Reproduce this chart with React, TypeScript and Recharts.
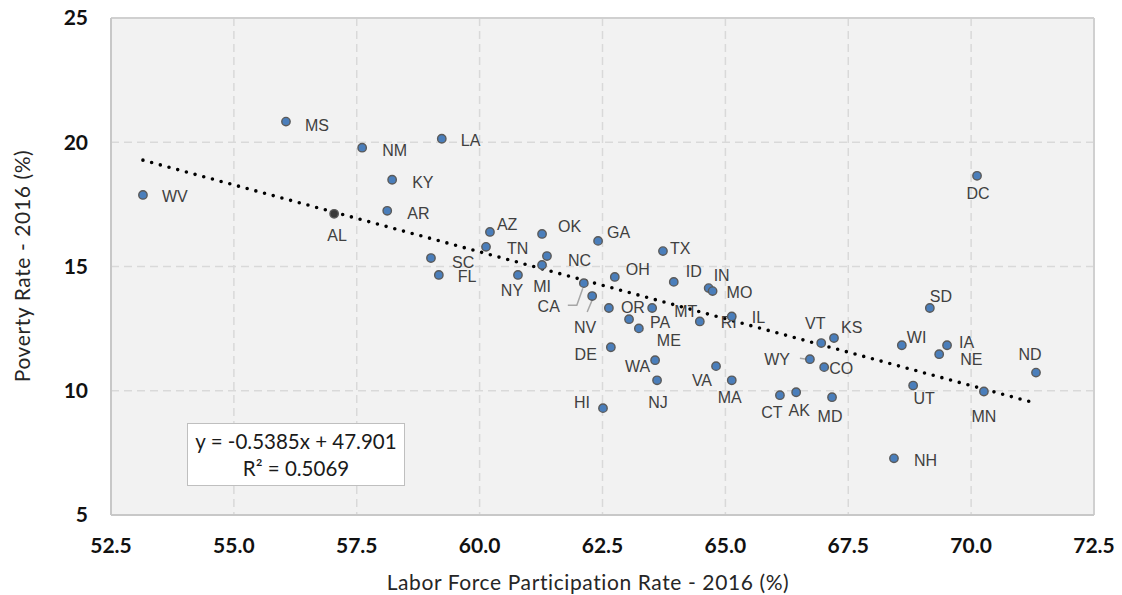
import React from "react";
import {
  ScatterChart,
  Scatter,
  XAxis,
  YAxis,
  CartesianGrid,
  ReferenceLine,
} from "recharts";

const states = [
  "WV", "MS", "NM", "LA", "KY", "AR", "AL", "SC", "FL", "AZ", "TN", "OK", "GA",
  "NC", "MI", "NY", "TX", "OH", "ID", "IN", "MO", "CA", "NV", "OR", "PA", "MT",
  "ME", "RI", "IL", "DE", "WA", "NJ", "VA", "MA", "HI", "CT", "AK", "MD", "WY",
  "CO", "VT", "KS", "WI", "SD", "IA", "NE", "ND", "UT", "MN", "NH", "DC",
];

// labor force participation rate 2016 (%)
const lfpr = [
  53.15, 56.06, 57.61, 59.23, 58.22, 58.12, 57.04, 59.01, 59.17, 60.21, 60.13, 61.27, 62.41,
  61.37, 61.27, 60.78, 63.73, 62.75, 63.95, 64.66, 64.74, 62.12, 62.29, 62.63, 63.04, 63.51,
  63.24, 64.48, 65.13, 62.67, 63.57, 63.61, 64.81, 65.13, 62.51, 66.11, 66.44, 67.17, 66.72,
  67.01, 66.95, 67.21, 68.59, 69.16, 69.51, 69.35, 71.32, 68.82, 70.26, 68.43, 70.12,
];

// poverty rate 2016 (%)
const poverty = [
  17.88, 20.83, 19.78, 20.14, 18.49, 17.24, 17.12, 15.34, 14.66, 16.39, 15.79, 16.31, 16.03,
  15.42, 15.06, 14.66, 15.62, 14.58, 14.38, 14.13, 14.01, 14.33, 13.81, 13.33, 12.88, 13.33,
  12.51, 12.79, 12.99, 11.75, 11.23, 10.42, 10.99, 10.42, 9.3, 9.82, 9.94, 9.74, 11.27,
  10.95, 11.92, 12.12, 11.83, 13.33, 11.83, 11.47, 10.73, 10.21, 9.97, 7.28, 18.65,
];

const xTicks = [52.5, 55, 57.5, 60, 62.5, 65, 67.5, 70, 72.5];
const yTicks = [5, 10, 15, 20, 25];

const trendSlope = -0.5385;
const trendIntercept = 47.901;
const trendR2 = 0.5069;

const darkPoints = ["AL"];

// label placement relative to the dot: dx, dy, anchor
const labelPos: Record<string, [number, number, string?]> = {
  WV: [19, 2], MS: [19, 4], NM: [20, 3], LA: [19, 2], KY: [20, 3], AR: [20, 3],
  AL: [3, 22, "middle"], SC: [21, 4], FL: [19, 2], AZ: [7, -7], TN: [21, 2],
  OK: [16, -7], GA: [9, -8], NC: [21, 4], MI: [0, 21, "middle"], NY: [-6, 16, "middle"],
  TX: [7, -3], OH: [11, -7], ID: [12, -10], IN: [5, -13], MO: [14, 1],
  CA: [-24, 23, "end"], NV: [-7, 31, "middle"], OR: [12, 0], PA: [21, 3], MT: [22, 4],
  ME: [18, 12], RI: [21, 1], IL: [20, 1], DE: [-14, 7, "end"], WA: [-5, 6, "end"],
  NJ: [1, 22, "middle"], VA: [-4, 14, "end"], MA: [-2, 17, "middle"], HI: [-13, -6, "end"],
  CT: [-8, 17, "middle"], AK: [3, 18, "middle"], MD: [-2, 19, "middle"], WY: [-20, 0, "end"],
  CO: [5, 1], VT: [-6, -20, "middle"], KS: [7, -11], WI: [5, -8], SD: [0, -11],
  IA: [12, -3], NE: [21, 5], ND: [-6, -18, "middle"], UT: [11, 13, "middle"],
  MN: [0, 25, "middle"], NH: [20, 2], DC: [1, 18, "middle"],
};

const leaders: Record<string, number[][]> = {
  CA: [[-16, 22], [-7, 22], [-1, 5]],
  NV: [[-5, 16], [0, 4]],
  WY: [[-10, -1], [-3, 0]],
};

const data = states.map((s, i) => ({ state: s, x: lfpr[i], y: poverty[i] }));
const xMin = Math.min(...lfpr);
const xMax = Math.max(...lfpr);

const titleFont = "Lato, 'Open Sans', sans-serif";

function StatePoint(props: any) {
  const { cx, cy, payload } = props;
  if (cx == null || cy == null || !payload) return null;
  const st = payload.state;
  const [dx, dy, anchor] = labelPos[st] ?? [12, 0];
  const lead = leaders[st];
  return (
    <g>
      {lead && (
        <polyline
          points={lead.map(([a, b]) => `${cx + a},${cy + b}`).join(" ")}
          fill="none"
          stroke="#a6a6a6"
          strokeWidth={1.5}
        />
      )}
      <circle
        cx={cx}
        cy={cy}
        r={4.2}
        fill={darkPoints.includes(st) ? "#3a3a3a" : "#4a7ebb"}
        stroke="#5a5a5a"
        strokeWidth={1.4}
      />
      <text
        x={cx + dx}
        y={cy + dy}
        textAnchor={(anchor as any) ?? "start"}
        dominantBaseline="central"
        fontSize={16}
        fill="#404040"
        fontFamily="'Liberation Sans', Arial, sans-serif"
      >
        {st}
      </text>
    </g>
  );
}

export default function App() {
  return (
    <div style={{ position: "absolute", left: 0, top: 0, width: 1122, height: 595, background: "#fff" }}>
      <ScatterChart
        width={1122}
        height={595}
        margin={{ top: 18, right: 28, bottom: 0, left: 0 }}
      >
        <CartesianGrid
          fill="#f2f2f2"
          stroke="#d9d9d9"
          strokeDasharray="8 5"
          strokeWidth={1.5}
        />
        <XAxis
          type="number"
          dataKey="x"
          domain={[52.5, 72.5]}
          ticks={xTicks}
          tickFormatter={(v: number) => v.toFixed(1)}
          height={80}
          tickLine={false}
          tickSize={0}
          tickMargin={23}
          axisLine={{ stroke: "#c8c8c8", strokeWidth: 2 }}
          tick={{ fill: "#111", fontSize: 21, fontWeight: 700, fontFamily: titleFont }}
          label={{
            content: () => (
              <text
                x={588}
                y={581}
                textAnchor="middle"
                dominantBaseline="central"
                fontSize={21}
                letterSpacing={0.6}
                fill="#262626"
                fontFamily={titleFont}
              >
                Labor Force Participation Rate - 2016 (%)
              </text>
            ),
          }}
        />
        <YAxis
          type="number"
          dataKey="y"
          domain={[5, 25]}
          ticks={yTicks}
          width={111}
          tickLine={false}
          tickSize={0}
          tickMargin={23}
          axisLine={{ stroke: "#c8c8c8", strokeWidth: 2 }}
          tick={{ fill: "#111", fontSize: 21, fontWeight: 700, fontFamily: titleFont }}
          label={{
            content: () => (
              <text
                x={21}
                y={266}
                transform="rotate(-90 21 266)"
                textAnchor="middle"
                dominantBaseline="central"
                fontSize={21}
                letterSpacing={0.6}
                fill="#262626"
                fontFamily={titleFont}
              >
                Poverty Rate - 2016 (%)
              </text>
            ),
          }}
        />
        <ReferenceLine y={25} stroke="#d0d0d0" strokeWidth={2} />
        <ReferenceLine x={72.5} stroke="#d0d0d0" strokeWidth={2} />
        <ReferenceLine
          segment={[
            { x: xMin, y: trendSlope * xMin + trendIntercept },
            { x: xMax, y: trendSlope * xMax + trendIntercept },
          ]}
          stroke="#000"
          strokeWidth={3.6}
          strokeDasharray="0 9"
          strokeLinecap="round"
        />
        <Scatter data={data} shape={StatePoint} isAnimationActive={false} />
      </ScatterChart>
      <div
        style={{
          position: "absolute",
          left: 187,
          top: 423,
          width: 216,
          height: 61,
          background: "#fff",
          border: "1.5px solid #bfbfbf",
          display: "flex",
          flexDirection: "column",
          justifyContent: "center",
          alignItems: "center",
          fontFamily: titleFont,
          fontSize: 20.5,
          lineHeight: "27px",
          color: "#1a1a1a",
        }}
      >
        <div>y = {trendSlope}x + {trendIntercept}</div>
        <div>R² = {trendR2}</div>
      </div>
    </div>
  );
}
